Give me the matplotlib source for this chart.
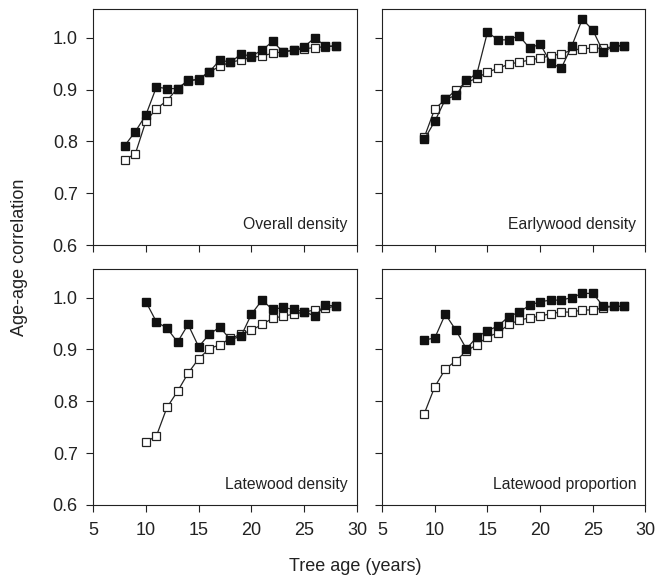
import matplotlib
matplotlib.use("Agg")
import matplotlib.pyplot as plt

plt.rcParams['font.family'] = ['Liberation Sans', 'DejaVu Sans']

# age-age correlations
overall_age = list(range(8, 29))
overall_filled = [0.792, 0.819, 0.851, 0.905, 0.902, 0.902, 0.918, 0.919, 0.934, 0.957, 0.953,
                  0.968, 0.965, 0.976, 0.993, 0.973, 0.976, 0.983, 1.000, 0.984, 0.984]
overall_open = [0.765, 0.776, 0.839, 0.863, 0.879, 0.902, 0.916, 0.921, 0.934, 0.945, 0.953,
                0.957, 0.962, 0.965, 0.970, 0.973, 0.976, 0.979, 0.981, 0.983, 0.984]

early_age = list(range(9, 29))
early_filled = [0.804, 0.839, 0.881, 0.889, 0.918, 0.931, 1.011, 0.996, 0.996, 1.004,
                0.980, 0.988, 0.952, 0.941, 0.984, 1.036, 1.015, 0.972, 0.985, 0.985]
early_open = [0.808, 0.863, 0.881, 0.899, 0.914, 0.922, 0.934, 0.941, 0.949, 0.953,
              0.957, 0.961, 0.965, 0.969, 0.976, 0.979, 0.980, 0.980, 0.983, 0.985]

late_age = list(range(10, 29))
late_filled = [0.992, 0.953, 0.941, 0.914, 0.948, 0.905, 0.929, 0.943, 0.919, 0.925,
               0.968, 0.995, 0.977, 0.981, 0.977, 0.973, 0.964, 0.985, 0.984]
late_open = [0.721, 0.733, 0.788, 0.819, 0.854, 0.882, 0.901, 0.909, 0.921, 0.929,
             0.937, 0.948, 0.960, 0.964, 0.968, 0.972, 0.976, 0.979, 0.984]

prop_age = list(range(9, 29))
prop_filled = [0.918, 0.922, 0.968, 0.937, 0.901, 0.924, 0.936, 0.945, 0.963, 0.972,
               0.985, 0.992, 0.995, 0.995, 1.000, 1.008, 1.008, 0.983, 0.983, 0.983]
prop_open = [0.776, 0.828, 0.862, 0.878, 0.897, 0.909, 0.924, 0.932, 0.948, 0.956,
             0.961, 0.964, 0.969, 0.972, 0.972, 0.976, 0.976, 0.980, 0.983, 0.983]

panels = [
    ("Overall density", overall_age, overall_filled, overall_open),
    ("Earlywood density", early_age, early_filled, early_open),
    ("Latewood density", late_age, late_filled, late_open),
    ("Latewood proportion", prop_age, prop_filled, prop_open),
]

ink = '#222222'
fig = plt.figure(figsize=(6.6, 5.85), dpi=100)

# axes positions in figure fractions (left, bottom, width, height)
rects = [
    (0.141, 0.581, 0.400, 0.404),
    (0.579, 0.581, 0.399, 0.404),
    (0.141, 0.137, 0.400, 0.404),
    (0.579, 0.137, 0.399, 0.404),
]

for i, (name, age, filled, opened) in enumerate(panels):
    ax = fig.add_axes(rects[i])
    ax.plot(age, opened, color=ink, lw=0.9, marker='s', ms=5.5,
            mfc='white', mec=ink, mew=0.9, zorder=2)
    ax.plot(age, filled, color=ink, lw=0.9, marker='s', ms=5.5,
            mfc='#111111', mec='#111111', zorder=3)
    ax.set_xlim(5, 30)
    ax.set_ylim(0.6, 1.056)
    ax.set_xticks([5, 10, 15, 20, 25, 30])
    ax.set_yticks([0.6, 0.7, 0.8, 0.9, 1.0])
    ax.tick_params(direction='out', length=5, width=0.8, labelsize=13,
                   color=ink, labelcolor=ink)
    ax.tick_params(axis='y', pad=6)
    ax.tick_params(axis='x', pad=7)
    for s in ax.spines.values():
        s.set_linewidth(0.8)
        s.set_color(ink)
    if i % 2 == 1:
        ax.set_yticklabels([])
    else:
        ax.set_yticklabels(['0.6', '0.7', '0.8', '0.9', '1.0'])
    if i < 2:
        ax.set_xticklabels([])
    ax.text(0.965, 0.055, name, transform=ax.transAxes, ha='right', va='bottom',
            fontsize=11.3, color=ink)

fig.text(0.538, 0.032, 'Tree age (years)', ha='center', va='center', fontsize=13, color=ink)
fig.text(0.030, 0.56, 'Age-age correlation', ha='center', va='center',
         rotation=90, fontsize=13, color=ink)

fig.savefig('out.png', dpi=100)
